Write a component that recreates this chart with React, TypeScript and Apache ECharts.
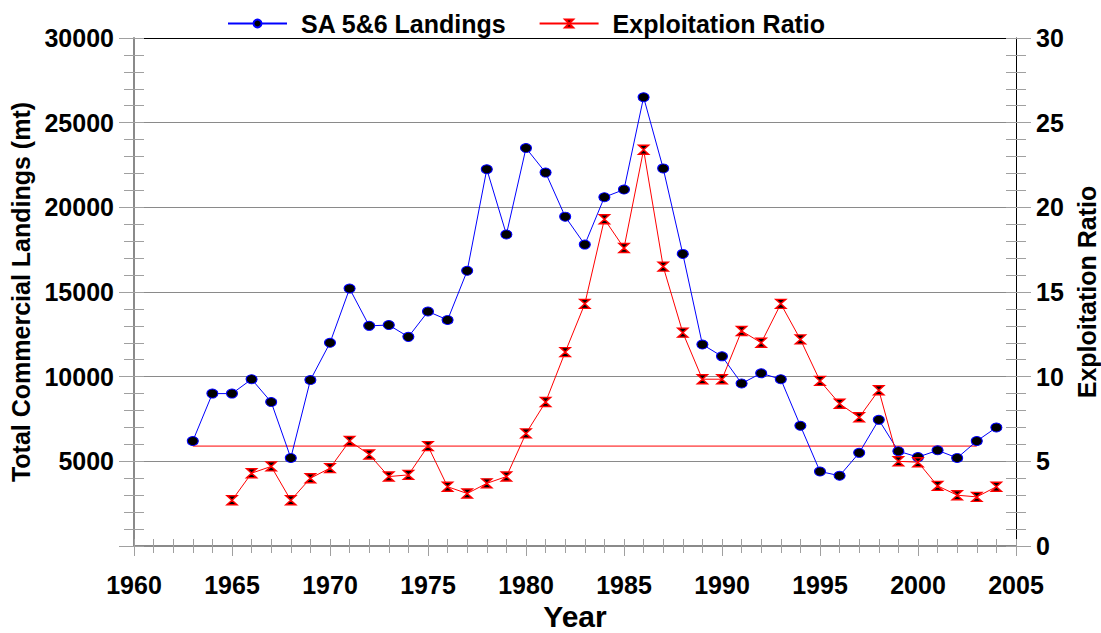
import React, { useEffect, useRef } from "react";
import * as echarts from "echarts";

const landingYears = [1963,1964,1965,1966,1967,1968,1969,1970,1971,1972,1973,1974,1975,1976,1977,1978,1979,1980,1981,1982,1983,1984,1985,1986,1987,1988,1989,1990,1991,1992,1993,1994,1995,1996,1997,1998,1999,2000,2001,2002,2003,2004];
const landings = [6200,9000,9000,9850,8500,5200,9800,12000,15200,13000,13050,12350,13850,13350,16250,22250,18400,23500,22050,19450,17800,20600,21050,26500,22300,17250,11900,11200,9600,10200,9850,7100,4400,4150,5500,7450,5600,5250,5650,5200,6200,7000];
const ratioYears = [1965,1966,1967,1968,1969,1970,1971,1972,1973,1974,1975,1976,1977,1978,1979,1980,1981,1982,1983,1984,1985,1986,1987,1988,1989,1990,1991,1992,1993,1994,1995,1996,1997,1998,1999,2000,2001,2002,2003,2004];
const ratio = [2.7,4.3,4.7,2.7,4.0,4.6,6.2,5.4,4.1,4.2,5.9,3.5,3.1,3.7,4.1,6.65,8.5,11.45,14.3,19.3,17.6,23.4,16.5,12.6,9.85,9.85,12.7,12.0,14.3,12.2,9.75,8.4,7.6,9.2,5.0,4.95,3.55,3.0,2.9,3.5];
const refYears = [1963, 2003];
const refValue = 5.9;

const FONT = "'Liberation Sans', Arial, sans-serif";
const GRAY = "#8a8a8a";
const TICK = "#a0a0a0";
const HOURGLASS = "path://M0,0L10,0L5,5L10,10L0,10L5,5Z";

export default function App() {
  const ref = useRef<HTMLDivElement>(null);
  useEffect(() => {
    const chart = echarts.init(ref.current!, null, { renderer: "svg" });
    const label = { fontSize: 25, fontWeight: "bold", color: "#000", fontFamily: FONT };
    chart.setOption({
      animation: false,
      backgroundColor: "#fff",
      textStyle: { fontFamily: FONT },
      grid: { left: 134, right: 85, top: 38, bottom: 87, outerBoundsMode: "none", containLabel: false },
      legend: {
        data: ["SA 5&6 Landings", "Exploitation Ratio"],
        left: 222,
        top: 6,
        itemWidth: 59,
        itemHeight: 10,
        itemGap: 32,
        textStyle: { ...label, padding: [0, 0, 0, 9] },
      },
      xAxis: [
        {
          type: "value", position: "bottom", min: 1960, max: 2005, interval: 5,
          name: "Year", nameLocation: "middle", nameGap: 55,
          nameTextStyle: { fontSize: 30, fontWeight: "bold", color: "#000", fontFamily: FONT },
          axisLine: { show: true, onZero: false, lineStyle: { color: GRAY, width: 2 } },
          axisTick: { show: true, length: 10, lineStyle: { color: TICK } },
          minorTick: { show: true, splitNumber: 5, length: 7, lineStyle: { color: TICK } },
          splitLine: { show: false },
          axisLabel: { ...label, margin: 26, formatter: (v: number) => String(v) },
        },
        {
          type: "value", position: "bottom", min: 1960, max: 2005, interval: 1,
          axisLine: { show: false, onZero: false },
          axisTick: { show: true, inside: true, length: 7, lineStyle: { color: TICK } },
          axisLabel: { show: false }, splitLine: { show: false },
        },
        {
          type: "value", position: "top", min: 1960, max: 2005, interval: 5,
          axisLine: { show: true, onZero: false, lineStyle: { color: "#000", width: 1 } },
          axisTick: { show: false }, axisLabel: { show: false }, splitLine: { show: false },
        },
      ],
      yAxis: [
        {
          type: "value", position: "left", min: 0, max: 30000, interval: 5000,
          name: "Total Commercial Landings (mt)", nameLocation: "middle", nameGap: 98, nameRotate: 90,
          nameTextStyle: { fontSize: 25, fontWeight: "bold", color: "#000", fontFamily: FONT },
          axisLine: { show: true, lineStyle: { color: GRAY, width: 2 } },
          axisTick: { show: true, length: 15, lineStyle: { color: TICK } },
          minorTick: { show: true, splitNumber: 5, length: 10, lineStyle: { color: TICK } },
          splitLine: { show: true, lineStyle: { color: GRAY, width: 1 } },
          axisLabel: { ...label, margin: 20, formatter: (v: number) => (v === 0 ? "" : String(v)) },
        },
        {
          type: "value", position: "left", min: 0, max: 30000, interval: 1000,
          axisLine: { show: false },
          axisTick: { show: true, inside: true, length: 10, lineStyle: { color: TICK } },
          axisLabel: { show: false }, splitLine: { show: false },
        },
        {
          type: "value", position: "right", min: 0, max: 30, interval: 5,
          name: "Exploitation Ratio", nameLocation: "middle", nameGap: 56, nameRotate: 90,
          nameTextStyle: { fontSize: 25, fontWeight: "bold", color: "#000", fontFamily: FONT },
          axisLine: { show: true, lineStyle: { color: "#000", width: 1 } },
          axisTick: { show: true, length: 15, lineStyle: { color: TICK } },
          minorTick: { show: true, splitNumber: 5, length: 10, lineStyle: { color: TICK } },
          splitLine: { show: false },
          axisLabel: { ...label, margin: 20 },
        },
        {
          type: "value", position: "right", min: 0, max: 30, interval: 1,
          axisLine: { show: false },
          axisTick: { show: true, inside: true, length: 10, lineStyle: { color: TICK } },
          axisLabel: { show: false }, splitLine: { show: false },
        },
      ],
      series: [
        {
          name: "Exploitation Ratio ref",
          type: "line", xAxisIndex: 0, yAxisIndex: 2,
          data: refYears.map((y) => [y, refValue]),
          symbol: "none", silent: true, z: 1,
          lineStyle: { color: "#ff0000", width: 1 },
        },
        {
          name: "SA 5&6 Landings",
          type: "line", xAxisIndex: 0, yAxisIndex: 0,
          data: landingYears.map((y, i) => [y, landings[i]]),
          symbol: "circle", symbolSize: [11, 9], z: 3,
          itemStyle: { color: "#000", borderColor: "#0000ff", borderWidth: 1 },
          lineStyle: { color: "#0000ff", width: 1 },
          color: "#0000ff",
        },
        {
          name: "Exploitation Ratio",
          type: "line", xAxisIndex: 0, yAxisIndex: 2,
          data: ratioYears.map((y, i) => [y, ratio[i]]),
          symbol: HOURGLASS, symbolSize: [10, 9], z: 3,
          itemStyle: { color: "#000", borderColor: "#ff0000", borderWidth: 1.5 },
          lineStyle: { color: "#ff0000", width: 1 },
          color: "#ff0000",
        },
      ],
    });
    return () => chart.dispose();
  }, []);
  return (
    <div
      ref={ref}
      style={{ position: "fixed", left: 0, top: 0, width: 1101, height: 633 }}
    />
  );
}
